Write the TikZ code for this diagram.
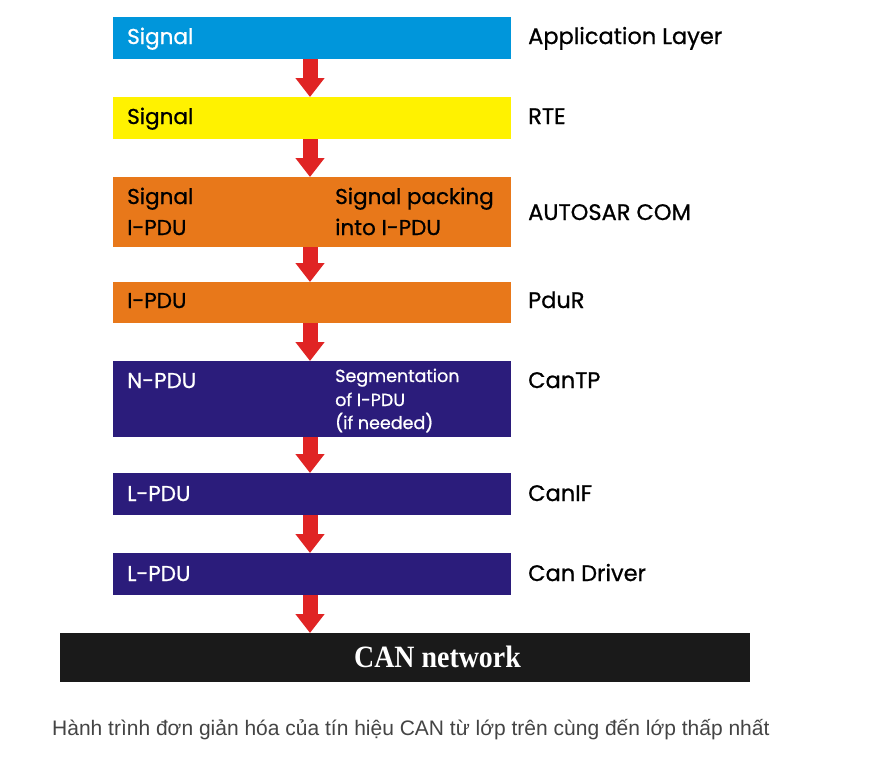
\documentclass[tikz,border=0pt]{standalone}
\usepackage{fontspec}
\setmainfont{Poppins}[FakeBold=0.8]
\newfontfamily\capfont{Liberation Sans}
\newfontfamily\netfont{Liberation Serif}
\usetikzlibrary{arrows.meta}
\definecolor{cblue}{HTML}{0096DB}
\definecolor{cyellow}{HTML}{FFF200}
\definecolor{corange}{HTML}{E8781A}
\definecolor{cnavy}{HTML}{2B1C7B}
\definecolor{cred}{HTML}{E02424}
\definecolor{cblack}{HTML}{1A1A1A}
\definecolor{ccap}{HTML}{444444}
\tikzset{
  layerbox/.style={draw=none, minimum width=398pt, anchor=north west, inner sep=0pt},
  intext/.style={anchor=base west, inner sep=0pt, font=\fontsize{21.5}{24}\selectfont},
  smalltext/.style={anchor=base west, inner sep=0pt, font=\fontsize{17.5}{20}\selectfont},
  sidetext/.style={anchor=base west, inner sep=0pt, text=black, font=\fontsize{22.5}{25}\selectfont},
  flow/.style={cred, line width=15pt, -{Triangle[width=28pt,length=19pt]}}
}
\begin{document}
\begin{tikzpicture}[x=1pt,y=-1pt]
\useasboundingbox[fill=white] (0,0) rectangle (875,756);
% layer boxes
\node[layerbox, fill=cblue, minimum height=42pt] (b1) at (113,17) {};
\node[layerbox, fill=cyellow, minimum height=42pt] (b2) at (113,97) {};
\node[layerbox, fill=corange, minimum height=70pt] (b3) at (113,177) {};
\node[layerbox, fill=corange, minimum height=41pt] (b4) at (113,282) {};
\node[layerbox, fill=cnavy, minimum height=76pt] (b5) at (113,361) {};
\node[layerbox, fill=cnavy, minimum height=42pt] (b6) at (113,473) {};
\node[layerbox, fill=cnavy, minimum height=42pt] (b7) at (113,553) {};
\node[draw=none, fill=cblack, minimum width=690pt, minimum height=49pt, anchor=north west, inner sep=0pt] (net) at (60,633) {};
% arrows
\coordinate (ax) at (310,0);
\draw[flow] (b1.south -| ax) -- (b2.north -| ax);
\draw[flow] (b2.south -| ax) -- (b3.north -| ax);
\draw[flow] (b3.south -| ax) -- (b4.north -| ax);
\draw[flow] (b4.south -| ax) -- (b5.north -| ax);
\draw[flow] (b5.south -| ax) -- (b6.north -| ax);
\draw[flow] (b6.south -| ax) -- (b7.north -| ax);
\draw[flow] (b7.south -| ax) -- (net.north -| ax);
% texts inside boxes
\node[intext, text=white] (t1) at (127,44) {Signal};
\node[intext, text=black] (t2) at (127,124) {Signal};
\node[intext, text=black] (t3a) at (127,204) {Signal};
\node[intext, text=black] (t3b) at (127,235) {I-PDU};
\node[intext, text=black] (t3c) at (335,204) {Signal packing};
\node[intext, text=black] (t3d) at (335,235) {into I-PDU};
\node[intext, text=black] (t4) at (127,308) {I-PDU};
\node[intext, text=white] (t5) at (127,388) {N-PDU};
\node[smalltext, text=white] (t5b) at (335,382) {Segmentation};
\node[smalltext, text=white] (t5c) at (335,406) {of I-PDU};
\node[smalltext, text=white] (t5d) at (335,429) {(if needed)};
\node[intext, text=white] (t6) at (127,501) {L-PDU};
\node[intext, text=white] (t7) at (127,581) {L-PDU};
\node[text=white, inner sep=0pt, xscale=0.9, font=\netfont\bfseries\fontsize{31}{34}\selectfont] (tn) at (437.5,657) {CAN network};
% side labels
\node[sidetext] (s1) at (528,44) {Application Layer};
\node[sidetext] (s2) at (528,124) {RTE};
\node[sidetext] (s3) at (528,220) {AUTOSAR COM};
\node[sidetext] (s4) at (528,308) {PduR};
\node[sidetext] (s5) at (528,388) {CanTP};
\node[sidetext] (s6) at (528,501) {CanIF};
\node[sidetext] (s7) at (528,581) {Can Driver};
% caption
\node[anchor=west, inner sep=0pt, text=ccap, font=\capfont\fontsize{21}{24}\selectfont] (cap) at (52,730) {Hành trình đơn giản hóa của tín hiệu CAN từ lớp trên cùng đến lớp thấp nhất};
\end{tikzpicture}
\end{document}
